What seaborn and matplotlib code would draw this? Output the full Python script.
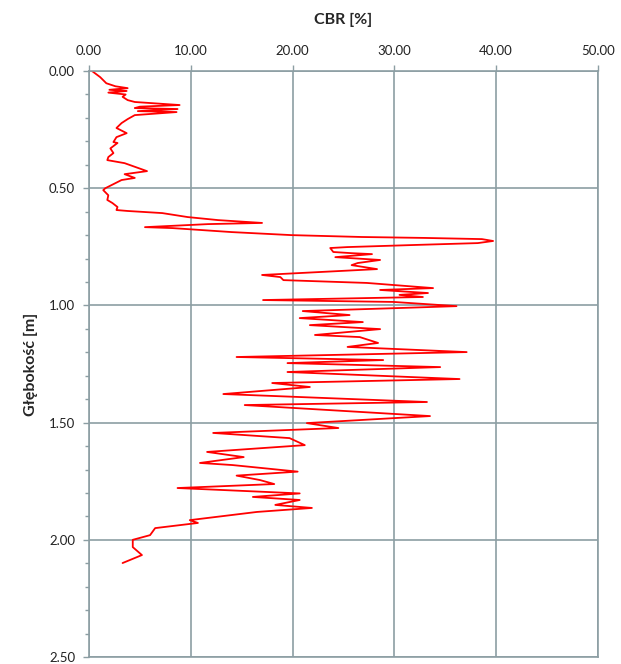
import numpy as np
import pandas as pd
import seaborn as sns
import matplotlib.pyplot as plt
from matplotlib.ticker import MultipleLocator, FormatStrFormatter

# depth [m] and CBR [%]
depth = [0.000, 0.026, 0.052, 0.065, 0.073, 0.080, 0.085, 0.092, 0.100, 0.110,
         0.124, 0.132, 0.145, 0.152, 0.158, 0.162, 0.171, 0.175, 0.188, 0.205,
         0.222, 0.243, 0.265, 0.282, 0.303, 0.307, 0.330, 0.350, 0.367, 0.380,
         0.393, 0.410, 0.427, 0.440, 0.456, 0.465, 0.478, 0.500, 0.508, 0.530,
         0.550, 0.563, 0.580, 0.593, 0.597, 0.606, 0.623, 0.636, 0.644, 0.648,
         0.653, 0.666, 0.670, 0.687, 0.700, 0.708, 0.712, 0.717, 0.725, 0.734,
         0.742, 0.751, 0.755, 0.772, 0.777, 0.781, 0.794, 0.806, 0.819, 0.828,
         0.845, 0.870, 0.879, 0.892, 0.904, 0.926, 0.934, 0.947, 0.955, 0.964,
         0.977, 0.985, 1.003, 1.011, 1.024, 1.041, 1.054, 1.071, 1.084, 1.101,
         1.126, 1.135, 1.160, 1.177, 1.199, 1.220, 1.233, 1.246, 1.263, 1.284,
         1.314, 1.331, 1.348, 1.378, 1.412, 1.425, 1.472, 1.502, 1.523, 1.544,
         1.566, 1.596, 1.625, 1.647, 1.672, 1.681, 1.709, 1.726, 1.745, 1.762,
         1.779, 1.802, 1.817, 1.830, 1.851, 1.864, 1.881, 1.916, 1.928, 1.950,
         1.980, 2.000, 2.031, 2.065, 2.099]
cbr = [0.3, 1.1, 1.7, 2.6, 3.8, 2.0, 3.7, 1.9, 3.6, 3.3,
       3.8, 4.5, 8.9, 5.0, 4.5, 8.7, 4.8, 8.6, 4.5, 3.8,
       3.2, 2.7, 3.7, 2.7, 2.4, 2.8, 2.1, 2.4, 1.9, 1.8,
       3.5, 4.6, 5.7, 3.5, 4.5, 3.2, 2.6, 1.6, 1.4, 1.9,
       1.8, 2.3, 2.8, 2.7, 3.8, 7.2, 9.7, 12.7, 15.6, 17.0,
       11.7, 5.5, 8.2, 14.0, 19.9, 26.8, 33.0, 38.6, 39.7, 38.2,
       32.0, 25.4, 23.7, 24.0, 25.8, 27.8, 24.2, 28.6, 26.4, 25.8,
       28.3, 17.0, 18.8, 19.1, 27.3, 33.8, 28.6, 33.3, 30.5, 32.8,
       17.1, 29.9, 36.1, 30.5, 21.0, 25.6, 20.7, 26.9, 21.7, 28.6,
       22.2, 26.6, 28.4, 25.4, 37.1, 14.5, 28.9, 19.5, 34.5, 19.5,
       36.4, 18.0, 21.7, 13.2, 33.2, 15.3, 33.5, 21.4, 24.5, 12.2,
       19.7, 21.2, 11.6, 15.2, 10.9, 14.1, 20.5, 14.5, 16.8, 18.2,
       8.7, 20.7, 16.1, 20.7, 18.3, 21.9, 16.5, 9.9, 10.7, 6.5,
       6.0, 4.3, 4.3, 5.2, 3.3]

df = pd.DataFrame({"CBR": cbr, "depth": depth})

sns.set_style("white")
plt.rcParams['font.family'] = ['Lato', 'DejaVu Sans']

grid_col = "#8c9ea3"

fig = plt.figure(figsize=(6.21, 6.64), dpi=100)
ax = fig.add_axes([0.1433, 0.0105, 0.8196, 0.8825])

sns.lineplot(data=df, x="CBR", y="depth", sort=False, estimator=None,
             color="#ff0000", linewidth=1.3, ax=ax)

ax.set_xlim(0, 50)
ax.set_ylim(2.5, 0)
ax.xaxis.set_major_locator(MultipleLocator(10))
ax.yaxis.set_major_locator(MultipleLocator(0.5))
ax.yaxis.set_minor_locator(MultipleLocator(0.1))
ax.xaxis.set_major_formatter(FormatStrFormatter('%.2f'))
ax.yaxis.set_major_formatter(FormatStrFormatter('%.2f'))

ax.xaxis.tick_top()
ax.xaxis.set_label_position('top')
ax.tick_params(axis='x', which='major', top=True, bottom=False, length=4,
               width=1, color=grid_col, pad=6, labelsize=9.5, labelcolor="#222222")
ax.tick_params(axis='y', which='major', left=True, length=4, width=1,
               color=grid_col, pad=6, labelsize=9.5, labelcolor="#222222")
ax.tick_params(axis='y', which='minor', left=True, length=3, width=1,
               color=grid_col)

ax.grid(True, which='major', color=grid_col, linewidth=1.2)
for side in ax.spines.values():
    side.set_color(grid_col)
    side.set_linewidth(1.2)

ax.set_xlabel("CBR [%]", fontsize=11.5, fontweight='bold', labelpad=15)
ax.set_ylabel("Głębokość [m]", fontsize=11.5, fontweight='bold', labelpad=8)

fig.savefig("out.png", dpi=100)
